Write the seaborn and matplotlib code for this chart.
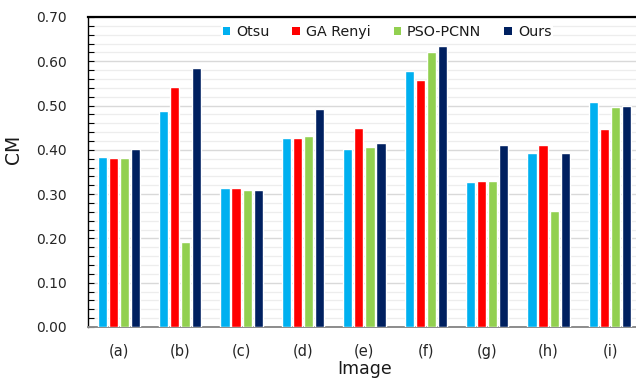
import matplotlib
matplotlib.use("Agg")
import matplotlib.pyplot as plt
import seaborn as sns
import pandas as pd
from matplotlib.patches import Patch
from matplotlib.ticker import MultipleLocator, FormatStrFormatter

categories = ["(a)", "(b)", "(c)", "(d)", "(e)", "(f)", "(g)", "(h)", "(i)"]
otsu = [0.383, 0.488, 0.315, 0.427, 0.401, 0.578, 0.327, 0.394, 0.507]
ga_renyi = [0.381, 0.542, 0.315, 0.427, 0.449, 0.558, 0.329, 0.410, 0.446]
pso_pcnn = [0.381, 0.193, 0.309, 0.431, 0.406, 0.620, 0.329, 0.263, 0.497]
ours = [0.401, 0.584, 0.309, 0.492, 0.415, 0.634, 0.410, 0.394, 0.499]
methods = ["Otsu", "GA Renyi", "PSO-PCNN", "Ours"]
colors = ["#00B0F0", "#FF0000", "#92D050", "#002060"]

rows = []
for m, vals in zip(methods, [otsu, ga_renyi, pso_pcnn, ours]):
    for c, v in zip(categories, vals):
        rows.append({"Image": c, "Method": m, "CM": v})
df = pd.DataFrame(rows)

sns.set_style("white")
plt.rcParams["font.family"] = ["DejaVu Sans"]

fig = plt.figure(figsize=(6.36, 3.79), dpi=100)
ax_w = 640.7 - 88.1
ax = fig.add_axes([88.1 / 636, 1 - 327 / 379, ax_w / 636, (327 - 17) / 379])

sns.barplot(data=df, x="Image", y="CM", hue="Method", order=categories,
            hue_order=methods, palette=colors, width=0.72, gap=0.17,
            saturation=1, ax=ax, legend=False, zorder=3)

ax.set_xlim(-0.5, 8.5)
ax.set_ylim(0, 0.70)
ax.yaxis.set_major_locator(MultipleLocator(0.1))
ax.yaxis.set_minor_locator(MultipleLocator(0.02))
ax.yaxis.set_major_formatter(FormatStrFormatter("%.2f"))
ax.grid(which="major", axis="y", color="#D9D9D9", lw=1.0, zorder=0)
ax.grid(which="minor", axis="y", color="#EDEDED", lw=0.9, zorder=0)
ax.set_axisbelow(True)

ax.spines["right"].set_visible(False)
ax.spines["top"].set_color("black")
ax.spines["top"].set_linewidth(1.6)
ax.spines["left"].set_color("black")
ax.spines["left"].set_linewidth(1.0)
ax.spines["bottom"].set_color("#8C8C8C")
ax.spines["bottom"].set_linewidth(1.4)

ax.tick_params(axis="y", which="both", direction="in", length=4, width=0.8,
               color="black", left=True, labelsize=10, pad=15.3, labelcolor="#262626")
ax.tick_params(axis="x", length=0, labelsize=10.5, pad=12, labelcolor="#262626")

ax.set_ylabel("CM", fontsize=13.5, color="#1a1a1a")
ax.yaxis.set_label_coords((23 - 88.1) / ax_w, (327 - 149.5) / 310)
ax.set_xlabel("Image", fontsize=12.5, color="#1a1a1a", va="bottom")
ax.xaxis.set_label_coords((364.5 - 88.1) / ax_w, -(378.5 - 327) / 310)

handles = [Patch(facecolor=c, edgecolor="none", label=m) for m, c in zip(methods, colors)]
leg = ax.legend(handles=handles, loc="center", bbox_to_anchor=((387 - 88.1) / ax_w, 1 - 15 / 310),
                ncol=4, frameon=True, fontsize=10.3, handlelength=0.55, handleheight=0.55,
                handletextpad=0.4, columnspacing=1.6, borderpad=0.1)
leg.get_frame().set_facecolor("white")
leg.get_frame().set_edgecolor("none")
leg.get_frame().set_alpha(1)
for t in leg.get_texts():
    t.set_color("#1a1a1a")

fig.savefig("out.png", dpi=100)
